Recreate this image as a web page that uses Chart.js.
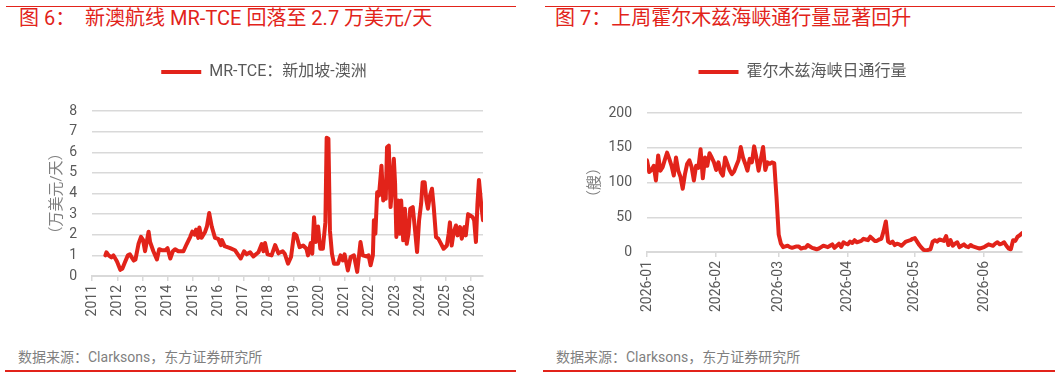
<!DOCTYPE html>
<html>
<head>
<meta charset="utf-8">
<script src="https://cdn.jsdelivr.net/npm/chart.js@4.4.1/dist/chart.umd.min.js"></script>
<style>
  body { margin: 0; width: 1061px; height: 378px; background: #fff; position: relative; overflow: hidden;
         font-family: Roboto, "Noto Sans CJK SC", sans-serif; }
  .line { position: absolute; background: #e2231a; }
  .title { position: absolute; top: 6px; font-size: 20px; line-height: 24px; color: #e2231a; white-space: pre; }
  .source { position: absolute; top: 348px; font-size: 14px; line-height: 18px; color: #7f7f7f; white-space: pre; }
  canvas { position: absolute; top: 45px; }
</style>
</head>
<body>
<div class="line" style="left:6px; top:6px; width:510px; height:1px;"></div>
<div class="line" style="left:545px; top:6px; width:510px; height:1px;"></div>
<div class="title" style="left:19px;">图 6：  新澳航线 MR-TCE 回落至 2.7 万美元/天</div>
<div class="title" style="left:555px;">图 7：上周霍尔木兹海峡通行量显著回升</div>

<canvas id="tceChart" width="520" height="300" style="left:0px;"></canvas>
<canvas id="hormuzChart" width="520" height="300" style="left:540px;"></canvas>

<div class="source" style="left:18px;">数据来源：Clarksons，东方证券研究所</div>
<div class="source" style="left:556px;">数据来源：Clarksons，东方证券研究所</div>
<div class="line" style="left:5px; top:370px; width:511px; height:2px;"></div>
<div class="line" style="left:543px; top:370px; width:512px; height:2px;"></div>

<script>
// MR-TCE Singapore-Australia, 10k USD/day
const tceYears = [
  2011.53, 2011.57, 2011.66, 2011.77, 2011.85, 2011.99, 2012.12, 2012.2, 2012.3, 2012.42,
  2012.5, 2012.65, 2012.72, 2012.84, 2012.94, 2013.02, 2013.1, 2013.24, 2013.3, 2013.43,
  2013.57, 2013.66, 2013.76, 2013.9, 2013.99, 2014.1, 2014.2, 2014.29, 2014.42, 2014.62,
  2014.75, 2014.89, 2014.97, 2015.07, 2015.12, 2015.21, 2015.25, 2015.34, 2015.48, 2015.55,
  2015.64, 2015.74, 2015.87, 2016.0, 2016.1, 2016.14, 2016.25, 2016.47, 2016.66, 2016.8,
  2016.89, 2017.02, 2017.12, 2017.26, 2017.39, 2017.59, 2017.72, 2017.79, 2017.85, 2017.95,
  2018.11, 2018.25, 2018.38, 2018.55, 2018.63, 2018.76, 2018.88, 2019.0, 2019.09, 2019.22,
  2019.36, 2019.49, 2019.55, 2019.66, 2019.72, 2019.79, 2019.86, 2019.95, 2020.04, 2020.14,
  2020.24, 2020.29, 2020.36, 2020.42, 2020.5, 2020.58, 2020.74, 2020.84, 2020.93, 2021.0,
  2021.13, 2021.24, 2021.37, 2021.5, 2021.63, 2021.72, 2021.86, 2021.95, 2022.03, 2022.12,
  2022.16, 2022.22, 2022.29, 2022.36, 2022.41, 2022.46, 2022.53, 2022.58, 2022.63, 2022.68,
  2022.75, 2022.82, 2022.88, 2022.95, 2023.0, 2023.05, 2023.12, 2023.18, 2023.24, 2023.32,
  2023.39, 2023.46, 2023.53, 2023.6, 2023.7, 2023.79, 2023.87, 2023.95, 2024.03, 2024.09,
  2024.17, 2024.24, 2024.3, 2024.38, 2024.46, 2024.53, 2024.62, 2024.71, 2024.82, 2024.92,
  2025.05, 2025.12, 2025.17, 2025.24, 2025.32, 2025.41, 2025.47, 2025.57, 2025.64, 2025.74,
  2025.8, 2025.89, 2025.97, 2026.07, 2026.13, 2026.2, 2026.26, 2026.32, 2026.4, 2026.48
];
const tceValues = [
  1.0, 1.15, 1.0, 0.9, 1.0, 0.7, 0.3, 0.35, 0.65, 1.0,
  1.05, 0.75, 0.8, 1.55, 1.9, 1.75, 1.2, 2.15, 1.65, 1.2,
  0.8, 1.3, 1.25, 1.25, 1.35, 0.85, 1.2, 1.3, 1.2, 1.2,
  1.55, 1.9, 2.15, 2.0, 2.25, 1.85, 2.35, 1.85, 2.15, 2.4,
  3.05, 2.4, 1.85, 1.8, 1.5, 1.75, 1.45, 1.35, 1.25, 1.0,
  0.85, 1.2, 1.05, 1.15, 0.95, 1.15, 1.55, 1.2, 1.6, 1.05,
  1.0, 1.5, 1.1, 1.2, 1.08, 0.6, 0.92, 2.05, 1.97, 1.4,
  1.48, 1.32, 1.0, 1.6, 1.08, 2.85, 1.65, 2.4, 1.32, 1.32,
  2.6, 6.7, 6.65, 2.2, 1.08, 0.6, 0.6, 1.0, 0.76, 1.05,
  0.27, 0.92, 1.0, 0.2, 1.65, 1.0, 0.95, 1.0, 0.52, 1.0,
  2.7, 2.05, 4.06, 3.9, 4.6, 5.35, 3.66, 4.3, 3.74, 6.24,
  6.32, 3.34, 4.3, 5.68, 4.47, 1.89, 3.66, 2.05, 3.66, 1.73,
  3.26, 1.56, 2.05, 3.26, 3.34, 2.21, 1.16, 2.7, 3.5, 4.55,
  4.55, 3.66, 3.26, 3.9, 4.23, 3.34, 1.89, 1.81, 1.56, 1.32,
  1.48, 2.05, 2.6, 1.48, 2.13, 2.45, 1.97, 2.37, 1.81, 2.37,
  1.97, 3.0, 2.94, 2.85, 2.7, 1.65, 3.5, 4.66, 3.58, 2.7
];
const tceYearTicks = [2011, 2012, 2013, 2014, 2015, 2016, 2017, 2018, 2019, 2020, 2021, 2022, 2023, 2024, 2025, 2026];

// Strait of Hormuz daily transits, one value per day from 2026-01-01
const hormuzShips = [
  132, 115, 118, 124, 103, 139, 117, 122, 133, 143,
  134, 124, 110, 136, 117, 108, 91, 112, 127, 132,
  122, 103, 124, 121, 148, 106, 136, 124, 142, 136,
  129, 118, 129, 115, 110, 136, 127, 118, 112, 116,
  124, 132, 151, 136, 127, 117, 134, 129, 152, 136,
  117, 134, 151, 118, 129, 127, 129, 128, 80, 25,
  12, 7, 8, 9, 7, 6, 7, 8, 8, 5,
  6, 6, 10, 8, 6, 5, 4, 5, 7, 9,
  8, 7, 9, 11, 6, 9, 12, 7, 14, 12,
  11, 15, 13, 17, 14, 15, 16, 19, 18, 17,
  22, 19, 16, 16, 18, 19, 30, 44, 15, 13,
  15, 10, 12, 11, 9, 12, 15, 16, 17, 19,
  20, 15, 10, 6, 3, 2, 3, 4, 15, 17,
  15, 18, 17, 16, 23, 10, 17, 9, 12, 14,
  7, 9, 11, 8, 7, 10, 8, 7, 6, 5,
  6, 7, 9, 11, 10, 9, 12, 14, 11, 12,
  14, 9, 5, 4, 17, 16, 22, 24, 27
];
const monthTickDays = [0, 31, 59, 90, 120, 151];
const monthTickLabels = ['2026-01', '2026-02', '2026-03', '2026-04', '2026-05', '2026-06'];

const RED = '#e2231a';
const GRID = '#d9d9d9';
const TEXT = '#595959';

Chart.defaults.font.family = 'Roboto, "Noto Sans CJK SC", sans-serif';
Chart.defaults.color = TEXT;

// push the plot down a bit below the legend
const legendGap = {
  id: 'legendGap',
  beforeInit(chart) {
    if (!chart.legend) return;
    const fit = chart.legend.fit;
    chart.legend.fit = function () {
      fit.call(this);
      this.height += chart.options.plugins.legendGap.gap;
    };
  }
};

function lineDataset(label, points) {
  return {
    label: label,
    data: points,
    borderColor: RED,
    backgroundColor: RED,
    borderWidth: 4,
    pointRadius: 0,
    tension: 0,
    borderJoinStyle: 'round',
    borderCapStyle: 'round'
  };
}

function baseOptions(pad, gap, yWidth, xHeight) {
  return {
    responsive: false,
    animation: false,
    layout: { padding: pad },
    plugins: {
      legend: {
        labels: { usePointStyle: true, pointStyle: 'line', pointStyleWidth: 40, font: { size: 16 }, color: TEXT }
      },
      legendGap: { gap: gap },
      tooltip: { enabled: false }
    },
    scales: {
      x: {
        type: 'linear',
        ticks: { autoSkip: false, minRotation: 90, maxRotation: 90, padding: 4, font: { size: 14 } },
        grid: { drawOnChartArea: false, tickLength: 5, color: GRID, lineWidth: 1.5 },
        border: { color: GRID, width: 2 },
        afterFit: s => { s.height = xHeight; }
      },
      y: {
        ticks: { padding: 15, font: { size: 14 } },
        grid: { color: GRID, lineWidth: 1.5, drawTicks: false },
        border: { display: false },
        title: { display: true, color: '#7f7f7f', font: { size: 15 }, padding: { top: 3, bottom: 0 } },
        afterFit: s => { s.width = yWidth; }
      }
    }
  };
}

// Figure 6
const tceOpts = baseOptions({ left: 45, right: 37, top: 9, bottom: 0 }, 21, 47, 69);
Object.assign(tceOpts.scales.x, {
  min: 2011, max: 2026.48,
  afterBuildTicks: s => { s.ticks = tceYearTicks.map(v => ({ value: v })); }
});
tceOpts.scales.x.ticks.callback = v => String(v);
Object.assign(tceOpts.scales.y, { min: 0, max: 8 });
tceOpts.scales.y.ticks.stepSize = 1;
tceOpts.scales.y.title.text = '（万美元/天）';

new Chart(document.getElementById('tceChart'), {
  type: 'line',
  data: { datasets: [lineDataset('MR-TCE：新加坡-澳洲', tceYears.map((x, i) => ({ x: x, y: tceValues[i] })))] },
  options: tceOpts,
  plugins: [legendGap]
});

// Figure 7
const hormuzOpts = baseOptions({ left: 43, right: 38, top: 9, bottom: 0 }, 23, 64, 93);
Object.assign(hormuzOpts.scales.x, {
  min: 0, max: hormuzShips.length - 1,
  afterBuildTicks: s => { s.ticks = monthTickDays.map(v => ({ value: v })); }
});
hormuzOpts.scales.x.ticks.callback = v => monthTickLabels[monthTickDays.indexOf(v)];
Object.assign(hormuzOpts.scales.y, { min: 0, max: 200 });
hormuzOpts.scales.y.ticks.stepSize = 50;
hormuzOpts.scales.y.title.text = '（艘）';

new Chart(document.getElementById('hormuzChart'), {
  type: 'line',
  data: { datasets: [lineDataset('霍尔木兹海峡日通行量', hormuzShips.map((v, i) => ({ x: i, y: v })))] },
  options: hormuzOpts,
  plugins: [legendGap]
});
</script>
</body>
</html>
